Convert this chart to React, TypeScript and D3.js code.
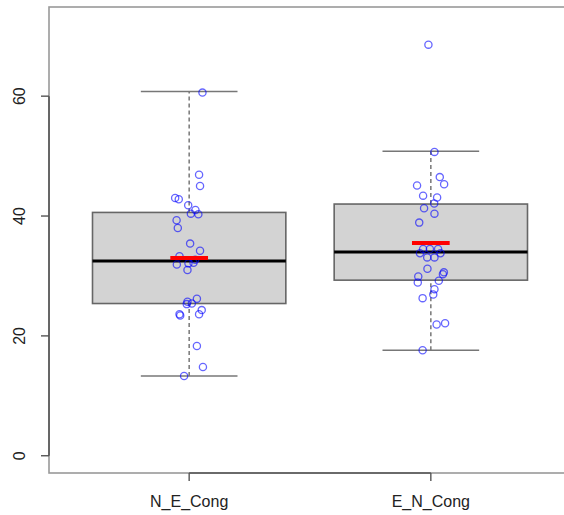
import React from "react";
import * as d3 from "d3";

const categories = ["N_E_Cong", "E_N_Cong"];

// box stats: [lower whisker, Q1, median, Q3, upper whisker]
const boxStats = [
  [13.3, 25.4, 32.5, 40.6, 60.8],
  [17.6, 29.3, 34.0, 42.0, 50.8],
];
const means = [33.0, 35.5];

// jittered points: value and horizontal jitter (in category units)
const neValues = [60.6, 46.9, 45.0, 43.0, 42.8, 41.8, 41.0, 40.4, 40.3, 39.3, 38.0, 35.4, 34.2, 33.3, 32.7, 31.9, 32.1, 32.2, 31.0, 26.2, 25.7, 25.4, 25.3, 24.3, 23.6, 23.4, 23.6, 18.3, 14.8, 13.3];
const neJitter = [0.055, 0.041, 0.045, -0.058, -0.043, -0.004, 0.026, 0.007, 0.038, -0.052, -0.047, 0.004, 0.045, -0.04, 0.025, -0.051, -0.003, 0.018, -0.007, 0.032, -0.007, 0.011, -0.01, 0.052, -0.04, -0.037, 0.041, 0.032, 0.057, -0.021];
const enValues = [68.6, 50.7, 46.5, 45.3, 45.1, 43.4, 43.1, 42.1, 41.3, 40.4, 38.9, 34.5, 34.5, 34.5, 33.8, 33.8, 33.1, 33.1, 31.2, 30.6, 30.3, 29.9, 28.9, 29.2, 27.8, 26.9, 26.3, 22.1, 21.9, 17.6];
const enJitter = [-0.01, 0.015, 0.037, 0.055, -0.057, -0.032, 0.026, 0.014, -0.028, 0.015, -0.048, -0.032, -0.004, 0.03, -0.045, 0.04, -0.015, 0.015, -0.014, 0.054, 0.05, -0.052, -0.054, 0.033, 0.015, 0.01, -0.034, 0.059, 0.024, -0.034];

const yTicks = [0, 20, 40, 60];

const W = 564;
const H = 515;
const plot = { left: 49, right: 571, top: 7, bottom: 473 };

export default function App() {
  // R-style axis limits: data range extended 4% on each side
  const x = d3.scaleLinear().domain([0.42, 2.58]).range([plot.left, plot.right]);
  const y = d3.scaleLinear().domain([-2.88, 74.88]).range([plot.bottom, plot.top]);

  const groups = [
    { values: neValues, jitter: neJitter },
    { values: enValues, jitter: enJitter },
  ];

  const boxHalf = 0.4;
  const capHalf = 0.2;
  const meanHalf = 0.078;
  const font = "'Liberation Sans', Arial, sans-serif";

  return (
    <div style={{ position: "absolute", left: 0, top: 0 }}>
      <svg width={W} height={H} style={{ display: "block", background: "#fff" }}>
        {/* boxes */}
        {boxStats.map((s, i) => {
          const cx = x(i + 1);
          return (
            <g key={i}>
              <line x1={cx} x2={cx} y1={y(s[3])} y2={y(s[4])} stroke="#777" strokeWidth={1.5} strokeDasharray="4,3" />
              <line x1={cx} x2={cx} y1={y(s[0])} y2={y(s[1])} stroke="#777" strokeWidth={1.5} strokeDasharray="4,3" />
              <line x1={x(i + 1 - capHalf)} x2={x(i + 1 + capHalf)} y1={y(s[4])} y2={y(s[4])} stroke="#777" strokeWidth={1.5} />
              <line x1={x(i + 1 - capHalf)} x2={x(i + 1 + capHalf)} y1={y(s[0])} y2={y(s[0])} stroke="#777" strokeWidth={1.5} />
              <rect
                x={x(i + 1 - boxHalf)}
                y={y(s[3])}
                width={x(i + 1 + boxHalf) - x(i + 1 - boxHalf)}
                height={y(s[1]) - y(s[3])}
                fill="#d3d3d3"
                stroke="#666"
                strokeWidth={1.6}
              />
              <line x1={x(i + 1 - boxHalf)} x2={x(i + 1 + boxHalf)} y1={y(s[2])} y2={y(s[2])} stroke="#000" strokeWidth={3} />
            </g>
          );
        })}

        {/* jittered points */}
        {groups.map((g, i) =>
          g.values.map((v, j) => (
            <circle
              key={`${i}-${j}`}
              cx={x(i + 1 + g.jitter[j])}
              cy={y(v)}
              r={3.6}
              fill="none"
              stroke="rgba(0,0,255,0.6)"
              strokeWidth={1.3}
            />
          ))
        )}

        {/* means */}
        {means.map((m, i) => (
          <line key={i} x1={x(i + 1 - meanHalf)} x2={x(i + 1 + meanHalf)} y1={y(m)} y2={y(m)} stroke="#ff0000" strokeWidth={4} />
        ))}

        {/* frame */}
        <rect
          x={plot.left}
          y={plot.top}
          width={plot.right - plot.left}
          height={plot.bottom - plot.top}
          fill="none"
          stroke="#999"
          strokeWidth={1.6}
        />

        {/* y axis */}
        <line x1={plot.left} x2={plot.left} y1={y(yTicks[0])} y2={y(yTicks[yTicks.length - 1])} stroke="#555" strokeWidth={1.6} />
        {yTicks.map((t) => (
          <g key={t}>
            <line x1={plot.left - 8} x2={plot.left} y1={y(t)} y2={y(t)} stroke="#555" strokeWidth={1.4} />
            <text
              transform={`translate(25, ${y(t)}) rotate(-90)`}
              textAnchor="middle"
              fontFamily={font}
              fontSize={16}
              fill="#222"
            >
              {t}
            </text>
          </g>
        ))}

        {/* x axis */}
        <line x1={x(1)} x2={x(categories.length)} y1={plot.bottom} y2={plot.bottom} stroke="#555" strokeWidth={1.6} />
        {categories.map((c, i) => (
          <g key={c}>
            <line x1={x(i + 1)} x2={x(i + 1)} y1={plot.bottom} y2={plot.bottom + 8} stroke="#555" strokeWidth={1.4} />
            <text x={x(i + 1)} y={507} textAnchor="middle" fontFamily={font} fontSize={16} fill="#222">
              {c}
            </text>
          </g>
        ))}
      </svg>
    </div>
  );
}
